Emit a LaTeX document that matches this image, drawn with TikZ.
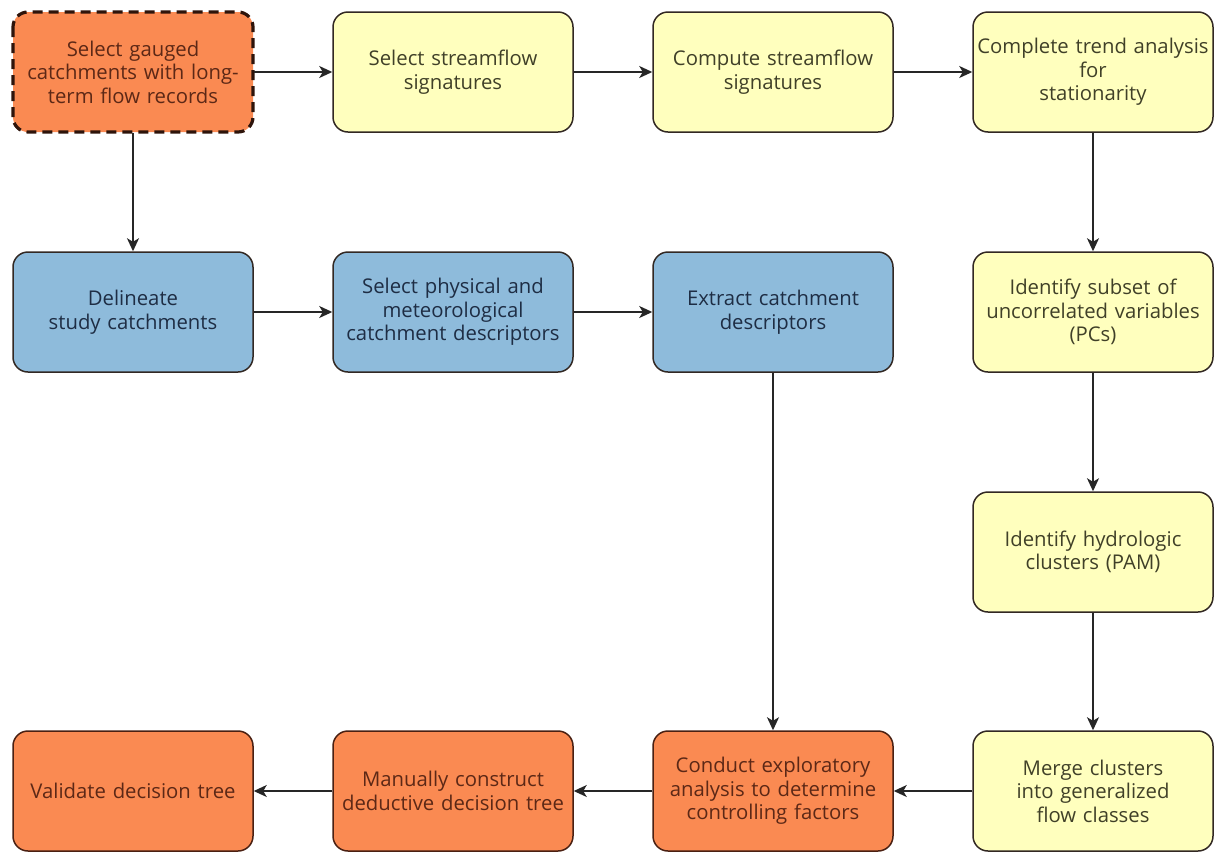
\documentclass[tikz,border=0pt]{standalone}
\usepackage{fontspec}
\setmainfont{Open Sans}
\usetikzlibrary{arrows.meta}
\definecolor{orfill}{RGB}{250,138,82}
\definecolor{ortext}{RGB}{92,40,22}
\definecolor{yefill}{RGB}{255,255,190}
\definecolor{yetext}{RGB}{64,64,40}
\definecolor{blfill}{RGB}{142,187,219}
\definecolor{bltext}{RGB}{30,45,68}
\definecolor{edge}{RGB}{50,40,35}
\tikzset{
  box/.style={rectangle, rounded corners=15pt, minimum width=240pt, minimum height=120pt,
    text width=238pt, align=center, line width=1.5pt, draw=edge,
    font=\fontsize{20.3}{23.5}\selectfont, inner sep=0pt},
  orbox/.style={box, fill=orfill, text=ortext, draw=ortext!80!black},
  yebox/.style={box, fill=yefill, text=yetext},
  blbox/.style={box, fill=blfill, text=bltext},
  conn/.style={line width=1.6pt, draw=black!85, -{Stealth[length=13pt,width=12pt,inset=3.5pt]}}
}
\begin{document}
\begin{tikzpicture}[x=1pt,y=-1pt]
\useasboundingbox (0,0) rectangle (1225,852);
% row 1
\node[orbox, draw=none] (a) at (133,72) {Select gauged\\catchments with long-\\term flow records};
\draw[ortext!50!black, line width=3.2pt, dash pattern=on 10pt off 6pt, rounded corners=15pt] (13,12) rectangle (253,132);
\node[yebox] (b) at (453,72) {Select streamflow\\signatures};
\node[yebox] (c) at (773,72) {Compute streamflow\\signatures};
\node[yebox] (d) at (1093,72) {Complete trend analysis\\for\\stationarity};
% row 2
\node[blbox] (e) at (133,312) {Delineate\\study catchments};
\node[blbox] (f) at (453,312) {Select physical and\\meteorological\\catchment descriptors};
\node[blbox] (g) at (773,312) {Extract catchment\\descriptors};
\node[yebox] (h) at (1093,312) {Identify subset of\\uncorrelated variables\\(PCs)};
% row 3
\node[yebox] (i) at (1093,552) {Identify hydrologic\\clusters (PAM)};
% row 4
\node[orbox] (j) at (133,791) {Validate decision tree};
\node[orbox] (k) at (453,791) {Manually construct\\deductive decision tree};
\node[orbox] (l) at (773,791) {Conduct exploratory\\analysis to determine\\controlling factors};
\node[yebox] (m) at (1093,791) {Merge clusters\\into generalized\\flow classes};
% connectors
\draw[conn] (a) -- (b);
\draw[conn] (b) -- (c);
\draw[conn] (c) -- (d);
\draw[conn] (a) -- (e);
\draw[conn] (e) -- (f);
\draw[conn] (f) -- (g);
\draw[conn] (d) -- (h);
\draw[conn] (h) -- (i);
\draw[conn] (i) -- (m);
\draw[conn] (g) -- (l);
\draw[conn] (m) -- (l);
\draw[conn] (l) -- (k);
\draw[conn] (k) -- (j);
\end{tikzpicture}
\end{document}
